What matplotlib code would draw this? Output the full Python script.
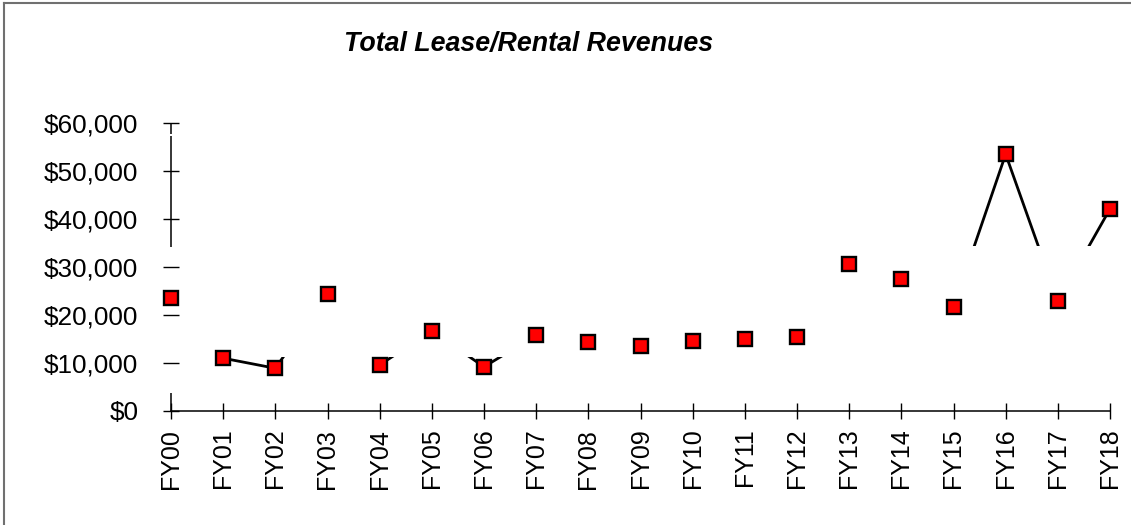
import matplotlib
matplotlib.use("Agg")
import matplotlib.pyplot as plt
from matplotlib.patches import Rectangle
from matplotlib.lines import Line2D
from matplotlib.ticker import FuncFormatter

plt.rcParams['font.family'] = ['Liberation Sans', 'DejaVu Sans']

# Data
years = ['FY00', 'FY01', 'FY02', 'FY03', 'FY04', 'FY05', 'FY06', 'FY07', 'FY08', 'FY09',
         'FY10', 'FY11', 'FY12', 'FY13', 'FY14', 'FY15', 'FY16', 'FY17', 'FY18']
revenues = [23500, 11000, 8900, 24400, 9600, 16700, 9200, 15800, 14400, 13500,
            14600, 15000, 15400, 30600, 27500, 21700, 53500, 22900, 42100]

x = list(range(len(years)))

fig = plt.figure(figsize=(11.31, 5.25), dpi=100)
ax = fig.add_axes([171 / 1131, 114 / 525, (1110 - 171) / 1131, 288 / 525])

# connecting line, partly hidden behind a white band like in the original
ax.plot(x, revenues, color='black', lw=2, zorder=1.5)
ax.add_patch(Rectangle((-0.5, 11250), 19, 23125, facecolor='white',
                       edgecolor='none', zorder=2))
ax.plot(x, revenues, linestyle='none', marker='s', markersize=10,
        markerfacecolor='#ff0000', markeredgecolor='black', markeredgewidth=1.7,
        zorder=3, clip_on=False)

ax.set_xlim(0, len(years) - 1)
ax.set_ylim(0, 60000)
ax.set_xticks(x)
ax.set_xticklabels(years, rotation=90, fontsize=18)
ax.set_yticks(range(0, 60001, 10000))
ax.yaxis.set_major_formatter(FuncFormatter(lambda v, p: f'${v:,.0f}'))
ax.tick_params(axis='y', direction='inout', length=11, width=1, labelsize=18.8, pad=18)
ax.tick_params(axis='x', direction='inout', length=11.5, width=1, pad=7)
ax.set_axisbelow(False)

for s in ['top', 'right', 'left']:
    ax.spines[s].set_visible(False)
ax.spines['bottom'].set_linewidth(1.1)

# left axis line with the gaps seen in the reference
for y0, y1 in [(57700, 60000), (34200, 57200), (0, 3750)]:
    ax.vlines(0, y0, y1, color='black', lw=1.1, clip_on=False, zorder=2.5)

fig.text(529 / 1131, (525 - 51) / 525, 'Total Lease/Rental Revenues', ha='center',
         va='baseline', fontsize=19.3, fontweight='bold', fontstyle='italic')

# outer frame (top and left edges only)
fig.add_artist(Line2D([4 / 1131, 4 / 1131], [0, 1 - 3 / 525], color='#707070', lw=1.5))
fig.add_artist(Line2D([4 / 1131, 1], [1 - 3 / 525, 1 - 3 / 525], color='#707070', lw=1.5))

fig.savefig('out.png', dpi=100, facecolor='white')
